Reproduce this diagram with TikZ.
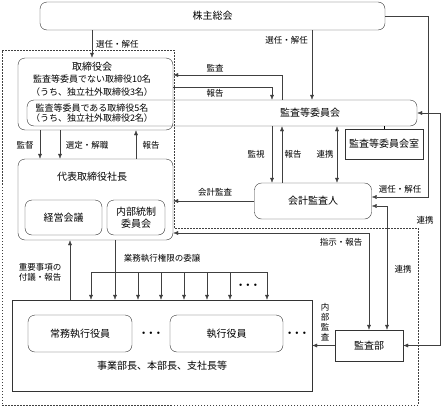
\documentclass[tikz,border=0pt]{standalone}
\usepackage{fontspec}
\setmainfont{Noto Sans CJK JP}
\usetikzlibrary{positioning}
\usetikzlibrary{arrows.meta}
\tikzset{
  rbox/.style={draw=black!80, rounded corners=7pt, inner sep=0pt, align=center, font=\fontsize{10}{12}\selectfont},
  sbox/.style={draw=black!80, inner sep=0pt, align=center, font=\fontsize{10}{12}\selectfont},
  txt/.style={inner sep=0pt, align=center, font=\fontsize{9}{10}\selectfont},
  lbl/.style={inner sep=0pt, align=center, font=\fontsize{8.5}{10}\selectfont},
  conn/.style={draw=black!75, -{Latex[length=5pt,width=4pt]}},
  conn2/.style={draw=black!75, {Latex[length=5pt,width=4pt]}-{Latex[length=5pt,width=4pt]}},
}

\begin{document}
\begin{tikzpicture}[x=1pt, y=-1pt]
    \useasboundingbox (0,0) rectangle (441,407);
    % dashed area: executive side
    \draw[black!75, dash pattern=on 1.5pt off 1.5pt] (2,50) -- (174,50) -- (174,228) -- (418,228) -- (418,405) -- (2,405) -- cycle;

    % boxes
    \node[rbox, minimum width=345pt, minimum height=28pt] (kabu) at (212.5,16) {株主総会};
    \node[rbox, minimum width=155pt, minimum height=72pt] (tori) at (95.5,94) {};
    \node[rbox, minimum width=390pt, minimum height=26pt] (kansa) at (222,113) {};
    \node[sbox, minimum width=78pt, minimum height=30pt] (shitsu) at (384,144) {監査等委員会室};
    \node[rbox, minimum width=155pt, minimum height=81pt] (pres) at (95.5,199.5) {};
    \node[rbox, minimum width=77pt, minimum height=35pt] (keiei) at (63.5,217.5) {経営会議};
    \node[rbox, minimum width=58pt, minimum height=35pt] (naibu) at (136,217.5) {内部統制\\委員会};
    \node[rbox, minimum width=117pt, minimum height=36pt] (kaikei) at (313,201) {会計監査人};
    \node[sbox, minimum width=68pt, minimum height=31pt] (bu) at (369,345.5) {監査部};
    \node[sbox, minimum width=300pt, minimum height=91pt] (exec) at (162,345.5) {};
    \node[rbox, minimum width=104pt, minimum height=37pt] (joumu) at (80,333.5) {常務執行役員};
    \node[rbox, minimum width=113pt, minimum height=37pt] (shikkou) at (226.5,333.5) {執行役員};

    % texts inside boxes
    \node[txt, font=\fontsize{10}{12}\selectfont] (toriname) at (92,67) {取締役会};
    \node[txt] (tori1) at (92,79.5) {監査等委員でない取締役10名};
    \node[txt] (tori2) at (92,92) {（うち、独立社外取締役3名）};
    \node[txt] (kansa1) at (92,113) {監査等委員である取締役5名\\（うち、独立社外取締役2名）};
    \node[txt, font=\fontsize{10}{12}\selectfont] (kansaname) at (310,113) {監査等委員会};
    \node[txt, font=\fontsize{10}{12}\selectfont] (presname) at (92,177) {代表取締役社長};
    \node[txt, font=\fontsize{10}{12}\selectfont] (execname) at (162,366) {事業部長、本部長、支社長等};
    \node[txt, font=\tiny] (dots1) at (151,333.5) {$\bullet\;\bullet\;\bullet$};
    \node[txt, font=\tiny] (dots2) at (297,333.5) {$\bullet\;\bullet\;\bullet$};
    \node[txt, font=\tiny] (dots3) at (248,285) {$\bullet\;\bullet\;\bullet$};

    % connectors
    \draw[conn] (92,0 |- kabu.south) -- (92,0 |- tori.north) node[lbl, midway, right=4pt] (lsen1) {選任・解任};
    \draw[conn] (312,0 |- kabu.south) -- (312,0 |- kansa.north) node[lbl, pos=0.15, left=4pt] (lsen2) {選任・解任};
    \draw[conn] (kabu.east) -- (428,16) -- (428,197) -- (kaikei.east |- 0,197);
    \node[lbl] (lsen3) at (400,189) {選任・解任};
    \draw[conn] (282,0 |- kansa.north) -- (282,75) -- (tori.east |- 0,75);
    \node[lbl] (lkansa) at (215,68) {監査};
    \draw[conn] (tori.east |- 0,87) -- (272,87) -- (272,0 |- kansa.north);
    \node[lbl] (lhou1) at (215,93) {報告};
    \draw[conn] (40,0 |- tori.south) -- (40,0 |- pres.north);
    \node[lbl] (lkantoku) at (25,145) {監督};
    \draw[conn] (60,0 |- tori.south) -- (60,0 |- pres.north);
    \node[lbl] (lsentei) at (87,145) {選定・解職};
    \draw[conn] (136,0 |- pres.north) -- (136,0 |- tori.south);
    \node[lbl] (lhou2) at (151,145) {報告};
    \draw[conn] (272,0 |- kansa.south) -- (272,0 |- kaikei.north);
    \node[lbl] (lkanshi) at (256,154) {監視};
    \draw[conn] (282,0 |- kaikei.north) -- (282,0 |- kansa.south);
    \node[lbl] (lhou3) at (293,154) {報告};
    \draw[conn2] (337,0 |- kansa.south) -- (337,0 |- kaikei.north);
    \node[lbl] (lren1) at (325,154) {連携};
    \draw (kansa.south -| shitsu.north) -- (shitsu.north);
    \draw[conn] (kaikei.west) -- (pres.east |- kaikei.west);
    \node[lbl] (lkaikei) at (215,192) {会計監査};
    \draw[conn2] (pres.east |- 0,233) -| (bu.north);
    \node[lbl] (lshiji) at (341,242) {指示・報告};
    \draw[conn2] (kaikei.east |- 0,206) -- (387,206) -- (387,0 |- bu.north);
    \node[lbl] (lren2) at (403,269) {連携};
    \draw[conn2] (kansa.east) -- (440,113) -- (440,345.5) -- (bu.east);
    \node[lbl] (lren3) at (425,220) {連携};
    \draw[conn] (bu.west) -- (exec.east |- bu.west);
    \node[lbl, font=\fontsize{8.5}{10}\selectfont] (lnaibu) at (325,322) {内\\部\\監\\査};
    \draw[conn] (70,0 |- exec.north) -- (70,0 |- pres.south);
    \node[lbl] (ljuuyou) at (40,272.5) {重要事項の\\付議・報告};

    % delegation of authority
    \draw[conn] (115,0 |- pres.south) -- (115,0 |- exec.north);
    \node[lbl] (litaku) at (162,258) {業務執行権限の委譲};
    \draw[black!75] (91,272) -- (267,272);
    \foreach \x in {91,138,161,184,207,230,267}
        \draw[conn] (\x,272) -- (\x,0 |- exec.north);
\end{tikzpicture}
\end{document}
